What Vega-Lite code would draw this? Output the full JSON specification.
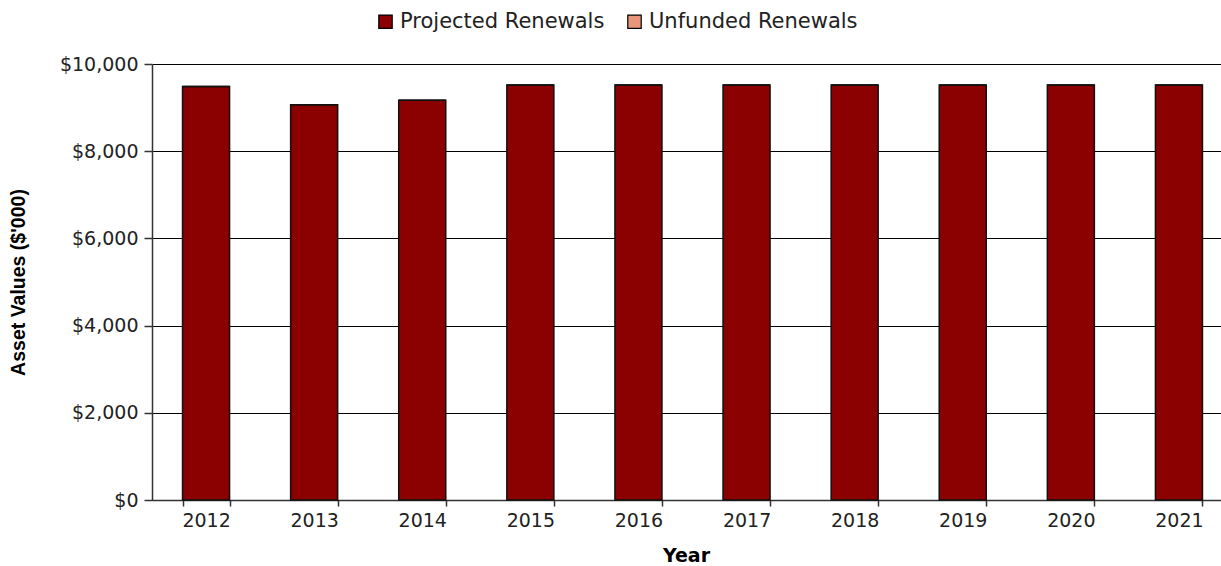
{
  "$schema": "https://vega.github.io/schema/vega-lite/v6.json",
  "width": 1081,
  "height": 436,
  "autosize": {"type": "none"},
  "padding": {"left": 152, "right": 0, "top": 64, "bottom": 66},
  "background": "white",
  "config": {
    "font": "DejaVu Sans",
    "view": {"stroke": null},
    "axis": {"labelFont": "DejaVu Sans", "titleFont": "Liberation Sans", "labelColor": "#222", "titleColor": "#000", "domainColor": "#333", "tickColor": "#333"}
  },
  "data": {
    "values": [
      {"Year": "2012", "Series": "Projected Renewals", "Value": 9483},
      {"Year": "2013", "Series": "Projected Renewals", "Value": 9066},
      {"Year": "2014", "Series": "Projected Renewals", "Value": 9166},
      {"Year": "2015", "Series": "Projected Renewals", "Value": 9521},
      {"Year": "2016", "Series": "Projected Renewals", "Value": 9521},
      {"Year": "2017", "Series": "Projected Renewals", "Value": 9521},
      {"Year": "2018", "Series": "Projected Renewals", "Value": 9521},
      {"Year": "2019", "Series": "Projected Renewals", "Value": 9521},
      {"Year": "2020", "Series": "Projected Renewals", "Value": 9521},
      {"Year": "2021", "Series": "Projected Renewals", "Value": 9521},
      {"Year": "2012", "Series": "Unfunded Renewals", "Value": 0},
      {"Year": "2013", "Series": "Unfunded Renewals", "Value": 0},
      {"Year": "2014", "Series": "Unfunded Renewals", "Value": 0},
      {"Year": "2015", "Series": "Unfunded Renewals", "Value": 0},
      {"Year": "2016", "Series": "Unfunded Renewals", "Value": 0},
      {"Year": "2017", "Series": "Unfunded Renewals", "Value": 0},
      {"Year": "2018", "Series": "Unfunded Renewals", "Value": 0},
      {"Year": "2019", "Series": "Unfunded Renewals", "Value": 0},
      {"Year": "2020", "Series": "Unfunded Renewals", "Value": 0},
      {"Year": "2021", "Series": "Unfunded Renewals", "Value": 0}
    ]
  },
  "mark": {"type": "bar", "stroke": "#111", "strokeWidth": 1.5},
  "encoding": {
    "x": {
      "field": "Year", "type": "ordinal",
      "scale": {"paddingInner": 0.565, "paddingOuter": 0.2825},
      "axis": {
        "title": "Year", "titleFont": "DejaVu Sans", "titleFontSize": 19, "titleFontWeight": "bold", "titlePadding": 16,
        "titleX": 534,
        "labelAngle": 0, "labelFontSize": 19, "labelPadding": 5,
        "tickBand": "extent", "tickSize": 6, "domainWidth": 1.5, "tickWidth": 1.5
      }
    },
    "y": {
      "field": "Value", "type": "quantitative", "stack": "zero",
      "scale": {"domain": [0, 10000]},
      "axis": {
        "title": "Asset Values ($'000)", "titleFontSize": 19.5, "titleFontWeight": "bold", "titlePadding": 31,
        "values": [0, 2000, 4000, 6000, 8000, 10000],
        "labelExpr": "'$' + format(datum.value, ',')",
        "labelFontSize": 19, "labelPadding": 6, "tickSize": 8,
        "grid": true, "gridColor": "#000", "gridWidth": 1.2, "gridOpacity": 1,
        "domainWidth": 1.5, "tickWidth": 1.5
      }
    },
    "color": {
      "field": "Series", "type": "nominal",
      "scale": {"domain": ["Projected Renewals", "Unfunded Renewals"], "range": ["#8B0000", "#E8967A"]},
      "legend": {
        "orient": "none", "legendX": 223, "legendY": -53, "title": null, "direction": "horizontal",
        "symbolType": "square", "symbolSize": 180, "symbolStrokeColor": "#000", "symbolStrokeWidth": 1.2,
        "labelFontSize": 21, "labelFont": "DejaVu Sans", "labelColor": "#222", "labelLimit": 400, "columnPadding": 19
      }
    },
    "order": {"field": "Series", "sort": "ascending"}
  }
}
